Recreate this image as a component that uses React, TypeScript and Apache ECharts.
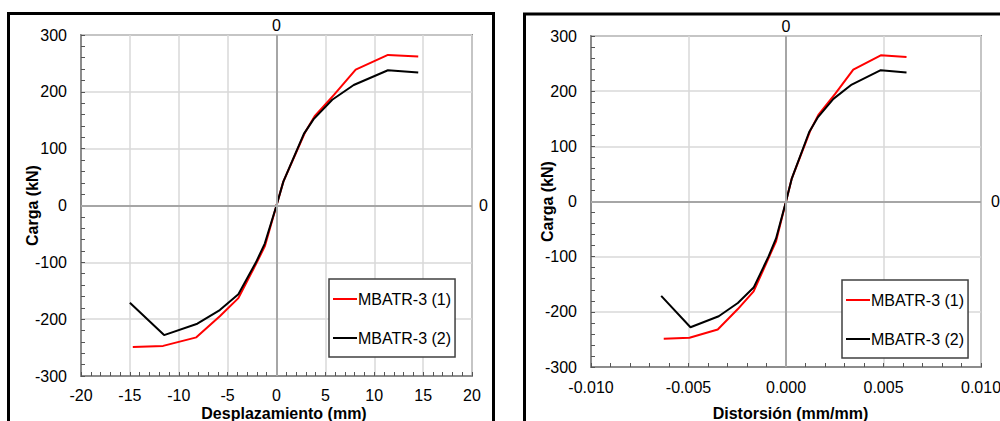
import React, { useEffect, useRef } from "react";
import * as echarts from "echarts";

// Displacement (mm) and load (kN) for each specimen
const disp1 = [-14.7, -11.6, -8.2, -5.8, -3.9, -2.1, -1.2, 0, 0.7, 2.9, 3.9, 5.9, 8.1, 11.4, 14.5];
const load1 = [-249, -247, -232, -195, -163, -103, -72, 0, 42, 128, 157, 195, 239, 265, 262];
const disp2 = [-15.0, -11.5, -8.1, -5.8, -3.9, -2.1, -1.2, 0, 0.7, 2.8, 3.8, 5.7, 7.9, 11.4, 14.5];
const load2 = [-171, -228, -208, -184, -156, -100, -67, 0, 42, 126, 152, 186, 212, 238, 234];

// Distortion (mm/mm)
const dist1 = [-0.00627, -0.00495, -0.0035, -0.00247, -0.00166, -0.0009, -0.00051, 0, 0.0003, 0.00124, 0.00166, 0.00252, 0.00345, 0.00486, 0.00618];
const dist2 = [-0.0064, -0.0049, -0.00345, -0.00247, -0.00166, -0.0009, -0.00051, 0, 0.0003, 0.00119, 0.00162, 0.00243, 0.00337, 0.00486, 0.00618];

const seriesNames = ["MBATR-3 (1)", "MBATR-3 (2)"];
const seriesColors = ["#ff0000", "#000000"];

const FONT = "'Liberation Sans', Arial, sans-serif";
const GRID_COLOR = "#d9d9d9";
const BORDER_COLOR = "#8c8c8c";
const ZERO_COLOR = "#a6a6a6";

function pairs(xs: number[], ys: number[]) {
  return xs.map((x, i) => [x, ys[i]]);
}

function bottomAxis(gridIndex: number, min: number, max: number, interval: number, name: string, fmt: (v: number) => string, labelMargin: number, nameGap: number, nameShift: number) {
  return {
    type: "value",
    gridIndex,
    position: "bottom",
    min,
    max,
    interval,
    name,
    nameLocation: "middle",
    nameGap,
    nameMoveOverlap: false,
    nameTextStyle: { fontFamily: FONT, fontSize: 16, fontWeight: "bold", color: "#000", padding: [0, 0, 0, nameShift] },
    axisLine: { show: true, onZero: false, lineStyle: { color: BORDER_COLOR, width: 2 } },
    axisTick: { show: true, inside: true, length: 4, lineStyle: { color: "#555", width: 1 } },
    minorTick: { show: true, splitNumber: 5, length: 4, lineStyle: { color: "#555", width: 1 } },
    splitLine: { show: true, lineStyle: { color: GRID_COLOR, width: 1.5 } },
    axisLabel: { margin: labelMargin, fontFamily: FONT, fontSize: 16, color: "#000", formatter: fmt },
  };
}

function topAxis(gridIndex: number, min: number, max: number, interval: number, margin: number) {
  return {
    type: "value",
    gridIndex,
    position: "top",
    min,
    max,
    interval,
    axisLine: { show: false },
    axisTick: { show: false },
    splitLine: { show: false },
    axisLabel: {
      margin,
      fontFamily: FONT,
      fontSize: 16,
      color: "#000",
      formatter: (v: number) => (Math.abs(v) < 1e-12 ? "0" : ""),
    },
  };
}

function leftAxis(gridIndex: number, nameGap: number) {
  return {
    type: "value",
    gridIndex,
    position: "left",
    min: -300,
    max: 300,
    interval: 100,
    name: "Carga (kN)",
    nameLocation: "middle",
    nameGap,
    nameMoveOverlap: false,
    nameTextStyle: { fontFamily: FONT, fontSize: 16, fontWeight: "bold", color: "#000" },
    axisLine: { show: true, onZero: false, lineStyle: { color: BORDER_COLOR, width: 2 } },
    axisTick: { show: true, inside: true, length: 4, lineStyle: { color: "#555", width: 1 } },
    minorTick: { show: true, splitNumber: 5, length: 4, lineStyle: { color: "#555", width: 1 } },
    splitLine: { show: true, lineStyle: { color: GRID_COLOR, width: 1.5 } },
    axisLabel: { margin: 14, fontFamily: FONT, fontSize: 16, color: "#000" },
  };
}

function rightAxis(gridIndex: number, margin: number) {
  return {
    type: "value",
    gridIndex,
    position: "right",
    min: -300,
    max: 300,
    interval: 100,
    axisLine: { show: false },
    axisTick: { show: false },
    splitLine: { show: false },
    axisLabel: {
      margin,
      fontFamily: FONT,
      fontSize: 16,
      color: "#000",
      formatter: (v: number) => (v === 0 ? "0" : ""),
    },
  };
}

function zeroLines(xAxisIndex: number, yAxisIndex: number) {
  return {
    type: "line",
    name: "zero",
    xAxisIndex,
    yAxisIndex,
    data: [[0, 0]],
    symbol: "none",
    silent: true,
    z: 1,
    lineStyle: { width: 0 },
    markLine: {
      silent: true,
      symbol: ["none", "none"],
      label: { show: false },
      lineStyle: { color: ZERO_COLOR, width: 2, type: "solid" },
      data: [{ xAxis: 0 }, { yAxis: 0 }],
    },
  };
}

function dataSeries(name: string, color: string, data: number[][], xAxisIndex: number, yAxisIndex: number) {
  return {
    type: "line",
    name,
    xAxisIndex,
    yAxisIndex,
    data,
    symbol: "none",
    showSymbol: false,
    z: 3,
    lineStyle: { color, width: 2 },
    itemStyle: { color },
  };
}

function legendAt(left: number, top: number) {
  return {
    left,
    top,
    orient: "vertical",
    data: seriesNames,
    icon: "rect",
    itemWidth: 24,
    itemHeight: 2,
    itemGap: 23,
    padding: [12, 4, 11, 4],
    backgroundColor: "#ffffff",
    borderColor: "#404040",
    borderWidth: 1.5,
    borderRadius: 0,
    textStyle: { fontFamily: FONT, fontSize: 16, color: "#000", padding: [0, 0, 0, -4] },
  };
}

export default function App() {
  const ref = useRef<HTMLDivElement>(null);

  useEffect(() => {
    if (!ref.current) return;
    const chart = echarts.init(ref.current, null, { renderer: "svg" });
    const option = {
      animation: false,
      backgroundColor: "#ffffff",
      graphic: [
        {
          type: "rect",
          z: 0,
          shape: { x: 8.5, y: 13.5, width: 485, height: 440 },
          style: { fill: "none", stroke: "#000", lineWidth: 3 },
          silent: true,
        },
        {
          type: "rect",
          z: 0,
          shape: { x: 524.5, y: 14, width: 520, height: 440 },
          style: { fill: "none", stroke: "#000", lineWidth: 3 },
          silent: true,
        },
      ],
      grid: [
        { left: 81, top: 35, width: 391, height: 341, outerBoundsMode: "none", containLabel: false, show: true, borderColor: BORDER_COLOR, borderWidth: 2, backgroundColor: "transparent" },
        { left: 591, top: 36, width: 390, height: 331, outerBoundsMode: "none", containLabel: false, show: true, borderColor: BORDER_COLOR, borderWidth: 2, backgroundColor: "transparent" },
      ],
      xAxis: [
        bottomAxis(0, -20, 20, 5, "Desplazamiento (mm)", (v: number) => String(v), 11, 29, 15),
        topAxis(0, -20, 20, 5, 2),
        bottomAxis(1, -0.01, 0.01, 0.005, "Distorsión (mm/mm)", (v: number) => v.toFixed(3), 12, 38, 9),
        topAxis(1, -0.01, 0.01, 0.005, 2),
      ],
      yAxis: [leftAxis(0, 41), rightAxis(0, 7), leftAxis(1, 36), rightAxis(1, 10)],
      legend: [legendAt(329, 279), legendAt(842, 280)],
      series: [
        zeroLines(0, 0),
        dataSeries(seriesNames[0], seriesColors[0], pairs(disp1, load1), 0, 0),
        dataSeries(seriesNames[1], seriesColors[1], pairs(disp2, load2), 0, 0),
        zeroLines(2, 2),
        dataSeries(seriesNames[0], seriesColors[0], pairs(dist1, load1), 2, 2),
        dataSeries(seriesNames[1], seriesColors[1], pairs(dist2, load2), 2, 2),
      ],
    };
    chart.setOption(option as any);
    return () => chart.dispose();
  }, []);

  return (
    <div
      ref={ref}
      style={{ position: "fixed", left: 0, top: 0, width: 1000, height: 421, background: "#fff" }}
    />
  );
}
